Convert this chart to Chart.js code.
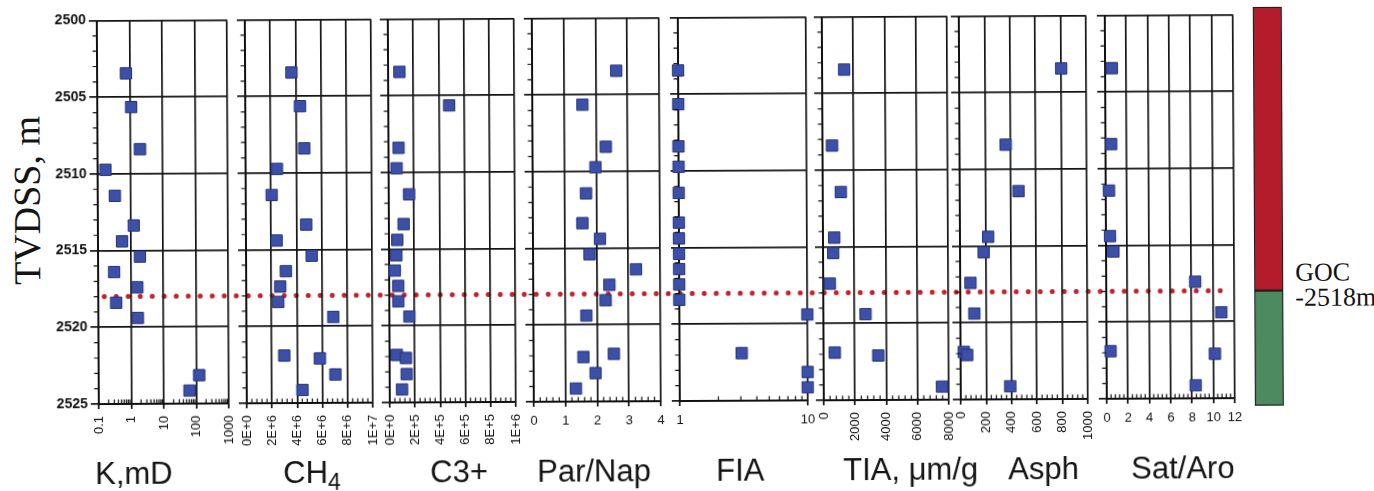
<!DOCTYPE html>
<html>
<head>
<meta charset="utf-8">
<script src="https://cdn.jsdelivr.net/npm/chart.js@4.4.1/dist/chart.umd.min.js"></script>
<style>
  html, body { margin: 0; padding: 0; background: #fff; }
  #fig { position: relative; width: 1374px; height: 491px; overflow: hidden;
         transform: rotate(-0.3deg); transform-origin: 687px 245px; }
  #fig canvas { position: absolute; top: 0; }
  .ttl { position: absolute; font-family: "Liberation Sans", Arial, sans-serif; font-size: 31px;
         line-height: 31px; color: #141414; white-space: nowrap; }
  .ttl .sub { font-size: 23px; position: relative; top: 7px; }
  .serif { font-family: "Liberation Serif", "Times New Roman", serif; }
  #ytitle { position: absolute; width: 220px; left: -83px; top: 178px; text-align: center;
            font-size: 38px; line-height: 38px; transform: rotate(-90deg); color: #141414; }
  .goc { position: absolute; left: 1295px; font-size: 26px; line-height: 26px; color: #141414; }
</style>
</head>
<body>
<div id="fig">
  <div id="ytitle" class="serif">TVDSS, m</div>
  <div class="goc serif" style="top:263px">GOC</div>
  <div class="goc serif" style="top:288px">-2518m</div>
</div>
<script>
// sample depths (m TVDSS), shared by every log track
const depth = [2503.45, 2505.65, 2508.4, 2509.73, 2511.43, 2513.37, 2514.4, 2515.4,
               2516.4, 2517.4, 2518.4, 2519.4, 2521.9, 2522.1, 2523.15, 2524.15];

// measurements per depth (null = not measured)
const permK  = [0.77, 1.1, 2.03, 0.174, 0.337, 1.27, 0.55, 1.94, 0.31, 1.6, 0.354, 1.64, null, null, 124, 62];
const ch4    = [3.68e6, 4.34e6, 4.66e6, 2.49e6, 2.06e6, 4.79e6, 2.43e6, 5.21e6,
                3.15e6, 2.70e6, 2.54e6, 6.90e6, 2.99e6, 5.82e6, 7.04e6, 4.42e6];
const c3plus = [9.0e4, 4.83e5, 8.0e4, 6.4e4, 1.62e5, 1.17e5, 6.6e4, 5.8e4,
                4.5e4, 7.2e4, 7.2e4, 1.59e5, 5.8e4, 1.30e5, 1.35e5, 9.8e4];
const parNap = [2.65, 1.58, 2.31, 1.98, 1.68, 1.56, 2.11, 1.78, 3.24, 2.40, 2.28, 1.67, 2.53, 1.57, 1.95, 1.33];
const fia    = [1, 1, 1, 1, 1, 1, 1, 1, 1, 1, 1, 10, 3.06, null, 10, 10];
const tia    = [1410, null, 610, null, 1160, null, 720, 650, null, 420, null, 2700, 720, 3500, null, 7570];
const asph   = [804, null, 364, null, 463, null, 222, 186, null, 81, null, 110, 26, 52, null, 390];
const satAro = [0.63, null, 0.53, null, 0.31, null, 0.38, 0.69, null, 8.34, null, 10.78, 0.38, 10.16, null, 8.34];

// axis ticks
const depthTicks  = [2500, 2505, 2510, 2515, 2520, 2525];
const kTicks      = [0.1, 1, 10, 100, 1000];
const ch4Ticks    = [0, 2e6, 4e6, 6e6, 8e6, 1e7];
const c3Ticks     = [0, 2e5, 4e5, 6e5, 8e5, 1e6];
const parNapTicks = [0, 1, 2, 3, 4];
const fiaTicks    = [1, 10];
const tiaTicks    = [0, 2000, 4000, 6000, 8000];
const asphTicks   = [0, 200, 400, 600, 800, 1000];
const satAroTicks = [0, 2, 4, 6, 8, 10, 12];

const trackTitles = ['K,mD', 'CH<span class="sub">4</span>', 'C3+', 'Par/Nap', 'FIA', 'TIA, \u03bcm/g', 'Asph', 'Sat/Aro'];

// gas/oil contact and zone colour bar
const gocDepth = 2518;
const gasZone = [2499.5, 2518];
const oilZone = [2518, 2525.5];

// layout
const W = 1374, H = 491;
const PLOT_TOP = 17.5, PLOT_BOTTOM = 401;
const panelLeft  = [98, 246, 389, 533, 679, 823, 960, 1106];
const panelRight = [228, 372, 515, 660, 807, 948, 1087, 1234];
const titleLeft  = [94, 282, 429, 536, 715, 842, 1007, 1130];
const TITLE_TOP = 455;

const INK = '#111';
const SQ_FILL = '#3c50a8', SQ_EDGE = '#24337c';
const GOC_RED = '#c4202a';

Chart.defaults.font.family = '"Liberation Sans", Arial, sans-serif';
Chart.defaults.color = INK;

const sci = v => v.toExponential(0).replace('e', 'E');
const plain = v => String(v);

const tracks = [
  { values: permK,  type: 'logarithmic', ticks: kTicks,      rotate: true,  fmt: plain },
  { values: ch4,    type: 'linear',      ticks: ch4Ticks,    rotate: true,  fmt: sci, minorStep: 4e5 },
  { values: c3plus, type: 'linear',      ticks: c3Ticks,     rotate: true,  fmt: sci, minorStep: 4e4 },
  { values: parNap, type: 'linear',      ticks: parNapTicks, rotate: false, fmt: plain, minorStep: 0.2 },
  { values: fia,    type: 'logarithmic', ticks: fiaTicks,    rotate: false, fmt: plain },
  { values: tia,    type: 'linear',      ticks: tiaTicks,    rotate: true,  fmt: plain, minorStep: 400 },
  { values: asph,   type: 'linear',      ticks: asphTicks,   rotate: true,  fmt: plain, minorStep: 40 },
  { values: satAro, type: 'linear',      ticks: satAroTicks, rotate: false, fmt: plain, minorStep: 0.4 },
];

function minorValues(tr) {
  const lo = tr.ticks[0], hi = tr.ticks[tr.ticks.length - 1];
  const out = [];
  if (tr.type === 'logarithmic') {
    for (let base = lo; base < hi * 0.999; base *= 10) {
      for (let m = 2; m <= 9; m++) out.push(base * m);
    }
  } else {
    const major = tr.ticks[1] - tr.ticks[0];
    for (let v = lo + tr.minorStep; v < hi - 1e-9; v += tr.minorStep) {
      const r = v / major;
      if (Math.abs(r - Math.round(r)) > 1e-6) out.push(v);
    }
  }
  return out;
}

const depthMinor = [];
for (let d = 2501; d < 2525; d++) if (d % 5 !== 0) depthMinor.push(d);

// small tick marks: depth outside the left edge, x inside the bottom edge
const minorTicks = {
  id: 'minorTicks',
  afterDraw(chart, args, opts) {
    const { ctx, chartArea: a, scales } = chart;
    ctx.save();
    ctx.strokeStyle = INK;
    ctx.lineWidth = 1.2;
    ctx.beginPath();
    for (const v of opts.y || []) {
      const py = scales.y.getPixelForValue(v);
      ctx.moveTo(a.left - 4.5, py); ctx.lineTo(a.left, py);
    }
    for (const v of opts.x || []) {
      const px = scales.x.getPixelForValue(v);
      ctx.moveTo(px, a.bottom); ctx.lineTo(px, a.bottom - 4.5);
    }
    ctx.stroke();
    ctx.restore();
  }
};

const fig = document.getElementById('fig');

function addCanvas(left, width) {
  const c = document.createElement('canvas');
  c.width = width; c.height = H;
  c.style.left = left + 'px';
  c.style.width = width + 'px'; c.style.height = H + 'px';
  fig.appendChild(c);
  return c;
}

const baseOptions = {
  responsive: false,
  animation: false,
  events: [],
  plugins: { legend: { display: false }, tooltip: { enabled: false } },
};

// GOC dotted line across all tracks
const gocCanvas = addCanvas(0, W);
new Chart(gocCanvas, {
  type: 'line',
  data: { datasets: [{
    data: [{ x: 0, y: gocDepth }, { x: 1, y: gocDepth }],
    borderColor: GOC_RED, borderWidth: 5, borderDash: [0, 12], borderCapStyle: 'round',
    pointRadius: 0, clip: false,
  }] },
  options: Object.assign({}, baseOptions, {
    layout: { padding: { left: 104, right: W - 1227, top: PLOT_TOP, bottom: H - PLOT_BOTTOM } },
    scales: {
      x: { type: 'linear', min: 0, max: 1, display: false },
      y: { type: 'linear', min: 2500, max: 2525, reverse: true, display: false },
    },
  }),
});

// one chart per log track; right padding is wide enough that the
// last tick label never squeezes the plot area
const PAD_R = 34;
tracks.forEach((tr, i) => {
  const yw = i === 0 ? panelLeft[0] : 18;
  const left = panelLeft[i] - yw;
  const width = yw + (panelRight[i] - panelLeft[i]) + PAD_R;
  const canvas = addCanvas(left, width);
  const pts = [];
  tr.values.forEach((v, k) => { if (v !== null) pts.push({ x: v, y: depth[k] }); });

  new Chart(canvas, {
    type: 'scatter',
    data: { datasets: [{
      data: pts,
      pointStyle: 'rect', pointRadius: 8,
      backgroundColor: SQ_FILL, borderColor: SQ_EDGE, borderWidth: 1,
      clip: false,
    }] },
    plugins: [minorTicks],
    options: Object.assign({}, baseOptions, {
      layout: { padding: { left: 0, right: PAD_R, top: PLOT_TOP, bottom: 0 } },
      plugins: Object.assign({}, baseOptions.plugins, {
        minorTicks: { x: minorValues(tr), y: depthMinor },
      }),
      scales: {
        x: {
          type: tr.type,
          min: tr.ticks[0], max: tr.ticks[tr.ticks.length - 1],
          afterBuildTicks: s => { s.ticks = tr.ticks.map(v => ({ value: v })); },
          afterFit: s => { s.height = H - PLOT_BOTTOM; },
          grid: { color: '#141414', lineWidth: 1.7, tickLength: 5 },
          border: { color: INK, width: 2 },
          ticks: {
            autoSkip: false,
            minRotation: tr.rotate ? 90 : 0, maxRotation: tr.rotate ? 90 : 0,
            padding: 7,
            font: { size: 13 },
            callback: v => tr.fmt(v),
          },
        },
        y: {
          type: 'linear', min: 2500, max: 2525, reverse: true,
          afterBuildTicks: s => { s.ticks = depthTicks.map(v => ({ value: v })); },
          afterFit: s => { s.width = yw; },
          grid: { color: '#141414', lineWidth: 1.7, tickLength: 8 },
          border: { color: INK, width: 2 },
          ticks: { display: i === 0, padding: 3, font: { size: 14, weight: 'bold' },
                   callback: v => String(v) },
        },
      },
    }),
  });

  const t = document.createElement('div');
  t.className = 'ttl';
  t.style.left = titleLeft[i] + 'px';
  t.style.top = TITLE_TOP + 'px';
  t.innerHTML = trackTitles[i];
  fig.appendChild(t);
});

// gas cap / oil leg colour bar
const pxPerM = (PLOT_BOTTOM - PLOT_TOP) / 25;
const barCanvas = addCanvas(1246, 44);
new Chart(barCanvas, {
  type: 'bar',
  data: {
    labels: ['zone'],
    datasets: [
      { data: [gasZone], backgroundColor: '#b41b2b' },
      { data: [oilZone], backgroundColor: '#4d8a60' },
    ],
  },
  options: Object.assign({}, baseOptions, {
    datasets: { bar: { grouped: false, barPercentage: 1, categoryPercentage: 1,
                       borderColor: '#1e1e1e', borderWidth: 1.5, borderSkipped: false } },
    layout: { padding: {
      left: 8, right: 7,
      top: PLOT_TOP - (2500 - gasZone[0]) * pxPerM,
      bottom: H - (PLOT_BOTTOM + (oilZone[1] - 2525) * pxPerM),
    } },
    scales: {
      x: { display: false },
      y: { type: 'linear', min: gasZone[0], max: oilZone[1], reverse: true, display: false },
    },
  }),
});
</script>
</body>
</html>
